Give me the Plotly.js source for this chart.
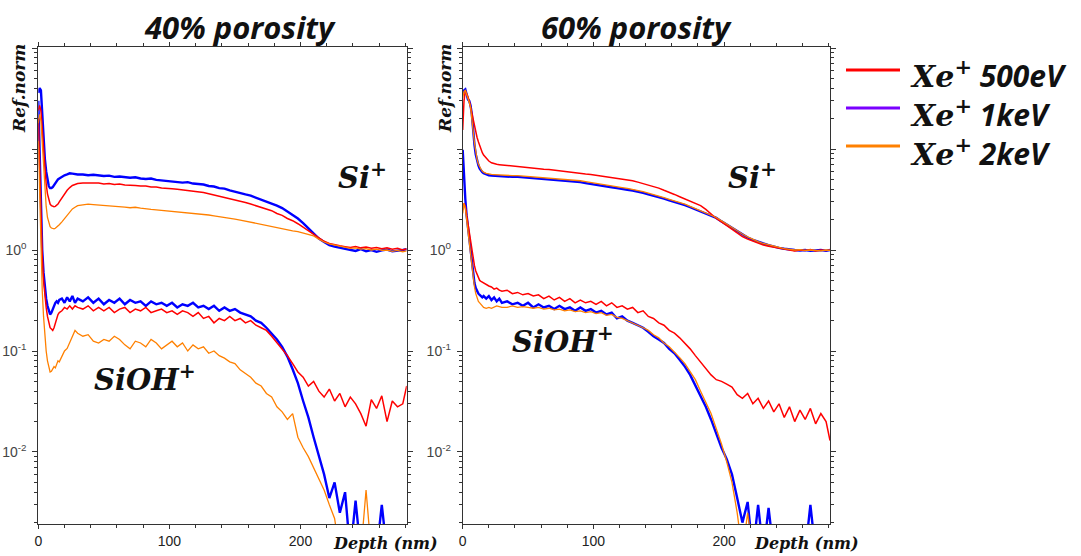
<!DOCTYPE html>
<html>
<head>
<meta charset="utf-8">
<script src="https://cdn.plot.ly/plotly-3.0.1.min.js"></script>
<style>html,body{margin:0;padding:0;background:#fff;}#chart{width:1081px;height:556px;}</style>
</head>
<body>
<div id="chart"></div>
<script>
// ---------------- DATA ----------------
const depth = [0,1,2,3,4,5,6,7,8,9,10,11,12,13,14,15,16,
  18,20,22,24,26,28,30,
  34,38,42,46,50,54,58,62,66,70,74,78,82,86,90,94,98,
  102,106,110,114,118,122,126,130,134,138,142,146,150,154,158,162,166,
  170,174,178,182,186,190,194,198,202,206,210,214,218,222,226,230,234,
  238,242,246,250,254,258,262,266,270,274,278,281];

const panelTitles = ['40% porosity', '60% porosity'];
const seriesNames = ['500eV', '1keV', '2keV'];
const xTickVals = [0, 100, 200];
const yTickVals = [0.01, 0.1, 1, 10, 100];
const yTickText = ['10<sup>-2</sup>', '10<sup>-1</sup>', '10<sup>0</sup>', '', ''];

// 40% porosity, Si+
const L_Si_500 = [24,27,24,15,9,6,4.5,3.6,3.1,2.85,2.75,2.7,2.68,2.7,2.75,2.85,3.0,
  3.3,3.6,3.9,4.15,4.35,4.45,4.55,
  4.6,4.6,4.55,4.6,4.5,4.55,4.45,4.5,4.4,4.4,4.35,4.3,4.3,4.2,4.2,4.1,4.1,
  4.05,4.0,3.95,3.85,3.8,3.75,3.7,3.6,3.5,3.45,3.35,3.25,3.15,3.05,2.95,2.85,2.75,
  2.65,2.55,2.45,2.3,2.2,2.05,1.95,1.82,1.68,1.55,1.42,1.3,1.22,1.16,1.12,1.1,1.08,
  1.06,1.08,1.05,1.07,1.04,1.06,1.03,1.05,1.02,1.04,1.0,1.03];
const L_Si_1k = [36,40,38,22,12,8,6,4.8,4.3,4.1,4.1,4.2,4.4,4.6,4.8,5.0,5.1,
  5.3,5.5,5.6,5.75,5.7,5.65,5.6,
  5.6,5.5,5.55,5.45,5.4,5.45,5.3,5.35,5.25,5.2,5.25,5.1,5.05,5.1,4.95,4.9,4.85,
  4.8,4.75,4.65,4.7,4.55,4.5,4.45,4.3,4.25,4.1,4.05,3.9,3.8,3.7,3.55,3.45,3.3,
  3.15,3.0,2.9,2.75,2.6,2.4,2.2,2.05,1.85,1.65,1.45,1.3,1.2,1.12,1.08,1.05,1.03,
  1.0,0.98,1.02,0.97,1.0,0.96,0.99,1.01,0.97,0.98,1.0,1.02];
const L_Si_2k = [18,22,19,11,6,3.8,2.7,2.1,1.85,1.7,1.65,1.62,1.62,1.64,1.68,1.72,1.78,
  1.9,2.05,2.2,2.4,2.55,2.65,2.75,
  2.8,2.85,2.82,2.8,2.78,2.75,2.72,2.7,2.66,2.62,2.65,2.6,2.55,2.52,2.5,2.47,2.45,
  2.42,2.4,2.37,2.34,2.32,2.3,2.27,2.22,2.18,2.13,2.1,2.06,2.02,1.98,1.93,1.88,1.83,
  1.79,1.75,1.71,1.67,1.63,1.58,1.55,1.52,1.48,1.44,1.38,1.28,1.2,1.15,1.12,1.08,1.06,
  1.04,1.05,1.02,1.03,1.0,1.02,0.99,1.0,0.97,0.99,0.96,0.98];

// 40% porosity, SiOH+
const L_OH_500 = [20,6,2,0.9,0.5,0.35,0.27,0.22,0.19,0.17,0.165,0.16,0.17,0.19,0.21,0.23,0.24,
  0.25,0.27,0.26,0.28,0.26,0.28,0.27,
  0.26,0.28,0.25,0.27,0.25,0.27,0.24,0.26,0.27,0.24,0.26,0.25,0.27,0.24,0.25,0.26,0.24,
  0.25,0.23,0.25,0.24,0.22,0.24,0.21,0.22,0.19,0.21,0.2,0.22,0.2,0.21,0.19,0.2,0.18,
  0.17,0.16,0.14,0.12,0.105,0.09,0.075,0.062,0.055,0.045,0.05,0.04,0.035,0.042,0.032,0.038,0.028,
  0.035,0.03,0.024,0.018,0.033,0.027,0.036,0.02,0.032,0.028,0.03,0.045];
const L_OH_1k = [30,8,2.5,1.0,0.6,0.42,0.33,0.28,0.25,0.23,0.24,0.26,0.28,0.3,0.31,0.3,0.32,
  0.33,0.3,0.34,0.31,0.35,0.3,0.33,
  0.31,0.34,0.3,0.33,0.29,0.32,0.3,0.33,0.29,0.32,0.3,0.31,0.28,0.31,0.29,0.3,0.28,
  0.3,0.27,0.29,0.28,0.3,0.27,0.28,0.26,0.28,0.25,0.27,0.25,0.26,0.24,0.23,0.22,0.2,
  0.19,0.17,0.15,0.13,0.11,0.088,0.066,0.048,0.032,0.022,0.014,0.009,0.006,0.0035,0.005,0.0025,0.004,
  0.001,0.0033,0.001,0.001,0.001,0.001,0.003,0.001,0.001,0.001,0.001,0.001];
const L_OH_2k = [12,3,0.9,0.4,0.22,0.14,0.1,0.08,0.068,0.062,0.063,0.066,0.07,0.068,0.075,0.08,0.078,
  0.09,0.1,0.106,0.12,0.14,0.16,0.15,
  0.14,0.145,0.125,0.12,0.13,0.125,0.14,0.13,0.115,0.105,0.125,0.12,0.11,0.13,0.12,0.105,0.115,
  0.125,0.11,0.12,0.1,0.115,0.105,0.11,0.095,0.1,0.09,0.085,0.078,0.075,0.065,0.06,0.055,0.048,
  0.045,0.038,0.035,0.028,0.025,0.021,0.024,0.014,0.011,0.009,0.007,0.0055,0.0042,0.003,0.0022,0.001,0.001,
  0.001,0.001,0.001,0.0042,0.001,0.001,0.001,0.001,0.001,0.001,0.001,0.001];

// 60% porosity, Si+
const R_Si_500 = [15.4,30,38,36,33,30,26,22,19,17,15,13,11.8,10.8,9.8,9.2,8.7,
  8.1,7.6,7.3,7.15,7.05,7.0,6.95,
  6.9,6.85,6.7,6.65,6.5,6.45,6.4,6.3,6.25,6.15,6.05,5.95,5.9,5.8,5.75,5.65,5.6,
  5.5,5.45,5.35,5.25,5.15,5.05,4.95,4.85,4.7,4.55,4.4,4.25,4.1,3.9,3.75,3.55,3.37,
  3.2,3.05,2.92,2.75,2.52,2.25,2.05,1.9,1.75,1.6,1.46,1.36,1.28,1.22,1.16,1.12,1.09,
  1.06,1.04,1.02,1.0,0.98,1.0,0.99,1.01,0.98,1.0,0.99,1.0];
const R_Si_1k = [35,38,39,35,31,30,27,22,15,11,8.8,7.6,6.9,6.4,6.1,5.9,5.75,
  5.6,5.5,5.45,5.42,5.4,5.38,5.35,
  5.35,5.3,5.3,5.25,5.25,5.2,5.15,5.1,5.05,5.0,4.95,4.9,4.85,4.75,4.7,4.6,4.5,
  4.4,4.35,4.25,4.18,4.1,4.0,3.95,3.88,3.8,3.68,3.55,3.45,3.32,3.22,3.1,3.0,2.9,
  2.78,2.65,2.52,2.42,2.3,2.2,2.08,1.92,1.78,1.64,1.52,1.42,1.33,1.26,1.2,1.16,1.12,
  1.08,1.05,1.03,1.01,1.0,0.99,1.0,0.98,0.99,1.0,0.98,1.0];
const R_Si_2k = [32,37,38,35,31,29,26,21,15,11.5,9.2,7.9,7.1,6.6,6.3,6.05,5.9,
  5.75,5.65,5.6,5.58,5.55,5.52,5.5,
  5.5,5.45,5.45,5.4,5.38,5.35,5.3,5.25,5.2,5.15,5.1,5.05,5.0,4.9,4.85,4.75,4.65,
  4.55,4.5,4.4,4.32,4.25,4.15,4.08,4.0,3.9,3.78,3.65,3.55,3.42,3.3,3.18,3.08,2.96,
  2.85,2.7,2.57,2.46,2.34,2.22,2.1,1.95,1.8,1.66,1.54,1.44,1.35,1.27,1.21,1.16,1.12,
  1.09,1.06,1.03,1.02,1.0,1.01,0.99,1.0,0.99,0.98,1.0,0.99];

// 60% porosity, SiOH+
const R_OH_500 = [2.5,2.9,2.7,2.2,1.8,1.45,1.2,1.0,0.82,0.7,0.62,0.57,0.53,0.5,0.49,0.48,0.47,
  0.46,0.44,0.43,0.41,0.42,0.4,0.39,
  0.4,0.37,0.38,0.36,0.37,0.35,0.36,0.33,0.35,0.32,0.34,0.31,0.33,0.3,0.32,0.3,0.31,
  0.29,0.31,0.28,0.3,0.27,0.28,0.26,0.27,0.24,0.25,0.22,0.21,0.19,0.18,0.16,0.15,0.135,
  0.12,0.105,0.09,0.078,0.066,0.058,0.052,0.05,0.047,0.044,0.037,0.034,0.038,0.03,0.034,0.027,0.032,
  0.025,0.03,0.022,0.028,0.02,0.026,0.021,0.027,0.019,0.024,0.02,0.013];
const R_OH_1k = [9.8,5,3.2,2.2,1.7,1.25,0.95,0.75,0.58,0.47,0.42,0.39,0.37,0.36,0.35,0.34,0.35,
  0.33,0.35,0.32,0.34,0.31,0.33,0.3,
  0.31,0.29,0.3,0.28,0.3,0.27,0.29,0.27,0.28,0.26,0.28,0.26,0.27,0.25,0.27,0.25,0.26,
  0.24,0.25,0.23,0.24,0.21,0.22,0.2,0.19,0.18,0.17,0.155,0.14,0.13,0.12,0.105,0.095,0.082,
  0.07,0.058,0.046,0.036,0.028,0.021,0.015,0.011,0.0085,0.006,0.0035,0.002,0.0032,0.001,0.003,0.001,0.0028,
  0.001,0.001,0.001,0.001,0.001,0.001,0.001,0.003,0.001,0.001,0.001,0.001];
const R_OH_2k = [2.3,2.9,2.6,2.0,1.5,1.1,0.85,0.65,0.52,0.43,0.37,0.33,0.31,0.3,0.29,0.28,0.27,
  0.265,0.27,0.265,0.27,0.28,0.275,0.27,
  0.27,0.28,0.27,0.275,0.27,0.265,0.27,0.26,0.265,0.255,0.26,0.25,0.255,0.245,0.25,0.24,0.245,
  0.235,0.24,0.225,0.23,0.215,0.21,0.2,0.19,0.18,0.17,0.16,0.145,0.135,0.12,0.11,0.098,0.086,
  0.075,0.063,0.052,0.04,0.031,0.024,0.017,0.012,0.008,0.005,0.0025,0.001,0.0025,0.001,0.001,0.001,0.001,
  0.001,0.001,0.001,0.001,0.001,0.001,0.001,0.001,0.001,0.001,0.001,0.001];

// ---------------- STYLE / LAYOUT ----------------
const W = 1081, H = 556;
const px = x => x / W;
const py = y => 1 - y / H;
const lineColors = ['#ff0000', '#0000ff', '#ff8000'];
const legendColors = ['#ff0000', '#7a00ff', '#ff8000'];
const lineWidths = [1.5, 2.4, 1.3];

function tr(y, i, xa, ya) {
  return {x: depth, y: y, type: 'scatter', mode: 'lines', xaxis: xa, yaxis: ya,
    line: {color: lineColors[i], width: lineWidths[i]}, showlegend: false, hoverinfo: 'skip'};
}
// draw order: blue, red, orange
const data = [
  tr(L_Si_1k, 1, 'x', 'y'), tr(L_OH_1k, 1, 'x', 'y'),
  tr(L_Si_500, 0, 'x', 'y'), tr(L_OH_500, 0, 'x', 'y'),
  tr(L_Si_2k, 2, 'x', 'y'), tr(L_OH_2k, 2, 'x', 'y'),
  tr(R_Si_1k, 1, 'x2', 'y2'), tr(R_OH_1k, 1, 'x2', 'y2'),
  tr(R_Si_500, 0, 'x2', 'y2'), tr(R_OH_500, 0, 'x2', 'y2'),
  tr(R_Si_2k, 2, 'x2', 'y2'), tr(R_OH_2k, 2, 'x2', 'y2')
];

const minorY = [];
for (let k = -3; k <= 1; k++) for (let m = 2; m <= 9; m++) minorY.push(m * Math.pow(10, k));

const axisColor = '#333333';
function xAxis(domain, anchor) {
  return {domain: domain, anchor: anchor, range: [0, 281], showgrid: false, zeroline: false,
    showline: true, linecolor: axisColor, linewidth: 1, mirror: 'ticks',
    ticks: 'outside', ticklen: 4, tickcolor: axisColor, tickmode: 'array', tickvals: xTickVals,
    tickfont: {family: 'Liberation Sans, Arial, sans-serif', size: 14, color: '#222'},
    minor: {ticks: 'outside', ticklen: 3, tickcolor: axisColor, dtick: 20, tick0: 0, showgrid: false},
    fixedrange: true};
}
function yAxis(anchor) {
  return {domain: [32 / H, 1 - 47 / H], anchor: anchor, type: 'log', range: [-2.713, 2.01],
    showgrid: false, zeroline: false, showline: true, linecolor: axisColor, linewidth: 1, mirror: 'ticks',
    ticks: 'outside', ticklen: 5, tickcolor: axisColor, tickmode: 'array', tickvals: yTickVals, ticktext: yTickText,
    ticklabelstandoff: 3,
    tickfont: {family: 'Liberation Sans, Arial, sans-serif', size: 14, color: '#444'},
    minor: {ticks: 'outside', ticklen: 3, tickcolor: axisColor, tickmode: 'array', tickvals: minorY, showgrid: false},
    fixedrange: true};
}

const serifBI = {family: 'DejaVu Serif', weight: 700, style: 'italic', color: '#111'};
const sansBI = {family: 'Open Sans', weight: 700, style: 'italic', color: '#111'};
function ann(text, x, y, font, extra) {
  return Object.assign({text: text, x: px(x), y: py(y), xref: 'paper', yref: 'paper',
    showarrow: false, xanchor: 'center', yanchor: 'middle', font: font}, extra || {});
}
const annotations = [
  ann(panelTitles[0], 240, 27, Object.assign({}, sansBI, {size: 31})),
  ann(panelTitles[1], 636, 27, Object.assign({}, sansBI, {size: 31})),
  ann('Ref.norm', 19, 89, Object.assign({}, serifBI, {size: 17}), {textangle: -90}),
  ann('Ref.norm', 445, 89, Object.assign({}, serifBI, {size: 17}), {textangle: -90}),
  ann('Depth (nm)', 385, 543, Object.assign({}, serifBI, {size: 16})),
  ann('Depth (nm)', 806, 543, Object.assign({}, serifBI, {size: 16})),
  ann('Si<sup>+</sup>', 362, 176, Object.assign({}, serifBI, {size: 29})),
  ann('Si<sup>+</sup>', 752, 176, Object.assign({}, serifBI, {size: 29})),
  ann('SiOH<sup>+</sup>', 145, 378, Object.assign({}, serifBI, {size: 29})),
  ann('SiOH<sup>+</sup>', 563, 340, Object.assign({}, serifBI, {size: 29}))
];
const shapes = [];
const legY = [70, 108, 146];
seriesNames.forEach((nm, i) => {
  shapes.push({type: 'line', xref: 'paper', yref: 'paper', x0: px(846), x1: px(900), y0: py(legY[i]), y1: py(legY[i]),
    line: {color: legendColors[i], width: 3}});
});
// legend text as one multi-line block (line spacing ~ 1.3 em matches the 38 px row pitch)
annotations.push(ann(seriesNames.map(nm => '<span style="font-family:DejaVu Serif">Xe<sup>+</sup></span> ' + nm).join('<br>'),
  908, legY[1] + 6, Object.assign({}, sansBI, {size: 30}), {xanchor: 'left', align: 'left'}));

const layout = {
  width: W, height: H, margin: {l: 0, r: 0, t: 0, b: 0},
  paper_bgcolor: '#fff', plot_bgcolor: '#fff', showlegend: false,
  xaxis: xAxis([38.3 / W, 406.7 / W], 'y'),
  yaxis: yAxis('x'),
  xaxis2: xAxis([462.7 / W, 830 / W], 'y2'),
  yaxis2: yAxis('x2'),
  annotations: annotations, shapes: shapes
};
Plotly.newPlot('chart', data, layout, {staticPlot: true, displayModeBar: false});
</script>
</body>
</html>
